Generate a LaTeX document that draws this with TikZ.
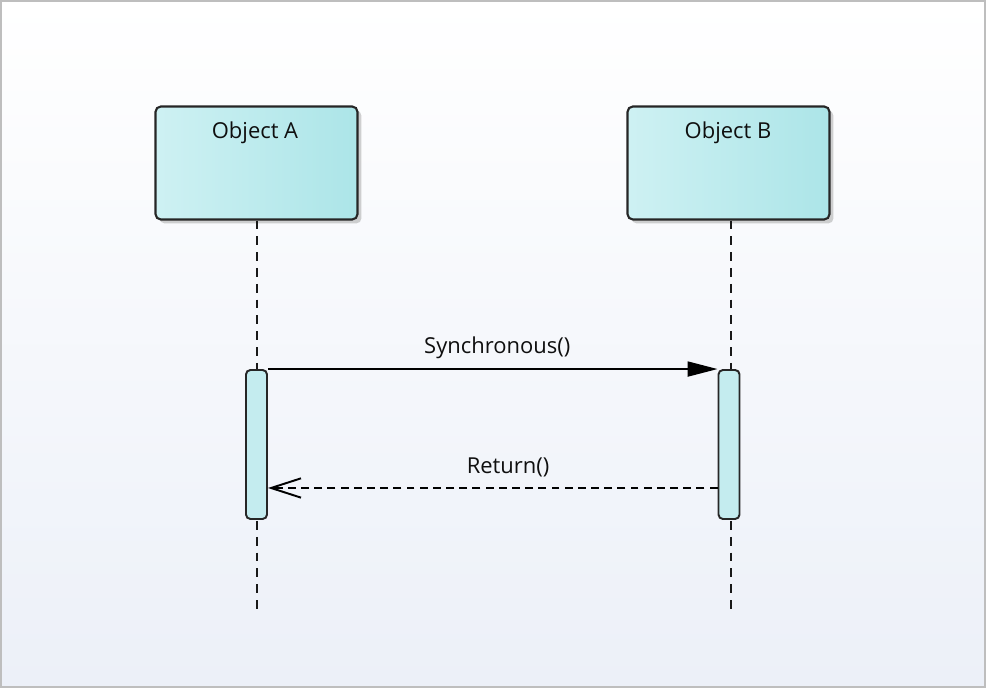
\documentclass[tikz,border=0pt]{standalone}
\usepackage{fontspec}
\setmainfont{Open Sans}
\usepackage{xcolor}
\usepackage{tikz}
\usetikzlibrary{arrows.meta, positioning, shadows}

\definecolor{objleft}{RGB}{206,241,243}
\definecolor{objright}{RGB}{172,229,232}
\definecolor{actfill}{RGB}{196,236,239}
\definecolor{bgbottom}{RGB}{236,240,248}
\definecolor{framegray}{RGB}{190,190,190}
\definecolor{msgtext}{RGB}{15,15,15}

\begin{document}
\begin{tikzpicture}[x=0.02cm, y=-0.02cm, font=\fontsize{12.5}{15}\selectfont,
    object/.style={rectangle, draw=black!85, line width=1.2pt, rounded corners=3pt, left color=objleft, right color=objright, minimum width=4.04cm, minimum height=2.26cm, drop shadow={shadow xshift=0.08cm, shadow yshift=-0.08cm, fill=black!40, opacity=0.45}},
    activation/.style={rectangle, draw=black!85, line width=1.1pt, rounded corners=2.5pt, fill=actfill, minimum width=0.42cm, minimum height=2.98cm},
    lifeline/.style={draw=black!90, line width=1.1pt, dash pattern=on 5pt off 4pt},
    call/.style={draw=black, line width=1.1pt, -{Triangle[length=17pt, width=8.5pt]}},
    reply/.style={draw=black, line width=1.1pt, dash pattern=on 4.5pt off 3pt, -{Straight Barb[length=17pt, width=11pt]}},
    msg/.style={text=msgtext, inner sep=0pt}
]
    % canvas
    \useasboundingbox (0,0) rectangle (986,688);
    \fill[top color=white, bottom color=bgbottom] (0,0) rectangle (986,688);
    \draw[framegray, line width=1.13pt] (1,1) rectangle (985,687);

    % objects
    \node [object] (objA) at (256.5,163) {};
    \node [object] (objB) at (728.5,163) {};
    \node [msg] (nameA) at (255,132.5) {Object A};
    \node [msg] (nameB) at (728,132.5) {Object B};

    % lifelines
    \coordinate (endA) at (257,610);
    \coordinate (endB) at (731,610);
    \draw [lifeline] (endA |- objA.south) -- (endA);
    \draw [lifeline] (endB |- objB.south) -- (endB);

    % activations
    \node [activation] (actA) at (256.5,444.5) {};
    \node [activation] (actB) at (729,444.5) {};

    % messages
    \draw [call] (actA.north east) -- node[msg, pos=0.51, yshift=0.43cm] {Synchronous()} (actB.north west);
    \draw [reply] ([yshift=-0.87cm]actB.west) -- node[msg, pos=0.466, yshift=0.42cm] {Return()} ([yshift=-0.87cm]actA.east);
\end{tikzpicture}
\end{document}
